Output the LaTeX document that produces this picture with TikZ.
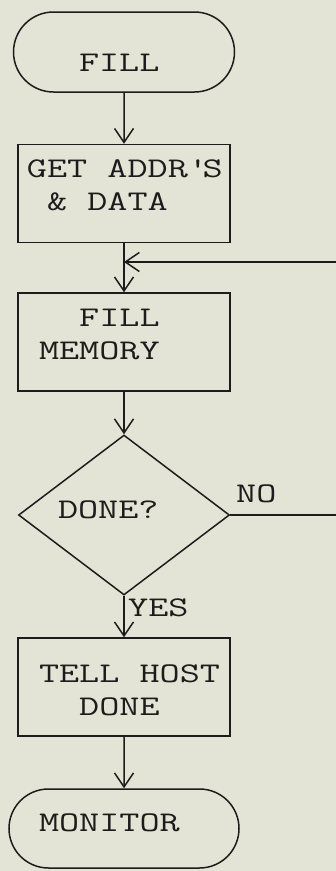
\documentclass[tikz,border=0pt]{standalone}
\usepackage{fontspec}
\setmonofont[FakeStretch=1.37]{Latin Modern Mono}
\usetikzlibrary{arrows.meta,shapes.geometric,shapes.misc}
\definecolor{paper}{HTML}{E4E4D6}
\definecolor{ink}{HTML}{1C1C1C}
% one full typewriter cell of blank space
\newcommand\tsp{\phantom{X}}

\tikzset{
  tw/.style={font=\ttfamily\fontsize{28.5}{33}\selectfont, text=ink},
  base/.style={tw, draw=ink, line width=1.5pt, inner sep=0pt, align=left},
  term/.style={base, rounded rectangle},
  proc/.style={base, rectangle, minimum width=212pt, minimum height=98pt},
  test/.style={base, diamond, minimum width=211pt, minimum height=148pt},
  lbl/.style={tw, inner sep=0pt},
  line/.style={draw=ink, line width=1.5pt},
  flow/.style={line, -{Straight Barb[length=14pt,width=19pt,line width=1.5pt]}}
}

\begin{document}
\begin{tikzpicture}[x=1pt,y=-1pt]
  \fill[paper] (0,0) rectangle (336,871);
  \useasboundingbox (0,0) rectangle (336,871);

  % blocks
  \node[term, minimum width=221pt, minimum height=80pt,
        text width=90pt, text height=38pt, text depth=0pt]
        (start) at (124,52) {FILL};
  \node[proc, text width=194pt, text height=17pt, text depth=50pt]
        (getdata) at (124,193.5) {GET\tsp ADDR\textquotesingle S\\\tsp\&\tsp DATA};
  \node[proc, text width=170pt, text height=17pt, text depth=49pt]
        (fillmem) at (124,342) {\tsp\tsp FILL\\MEMORY};
  \node[test, text width=132pt, text height=17pt, text depth=11pt]
        (done) at (124,515) {DONE?};
  \node[proc, text width=170pt, text height=17pt, text depth=27pt]
        (tell) at (124,687) {TELL\tsp HOST\\\tsp\tsp DONE};
  \node[term, minimum width=230pt, minimum height=79pt,
        text width=170pt, text height=17pt, text depth=12pt]
        (monitor) at (124,828.5) {MONITOR};

  % loop return enters from the right edge
  \coordinate (loopR) at (336,262);

  % connectors
  \draw[flow] (start) -- (getdata);
  \draw[flow] (getdata) -- (fillmem);
  \draw[flow] (loopR) -- (loopR -| getdata.south);
  \draw[flow] (fillmem) -- (done);
  \draw[line] (done.east) -- (done.east -| loopR);
  \draw[flow] (done) -- (tell);
  \draw[flow] (tell) -- (monitor);

  % branch labels
  \node[lbl, anchor=base west] (nolbl) at (236,502) {NO};
  \node[lbl, anchor=base west] (yeslbl) at (128,616) {YES};
\end{tikzpicture}
\end{document}
